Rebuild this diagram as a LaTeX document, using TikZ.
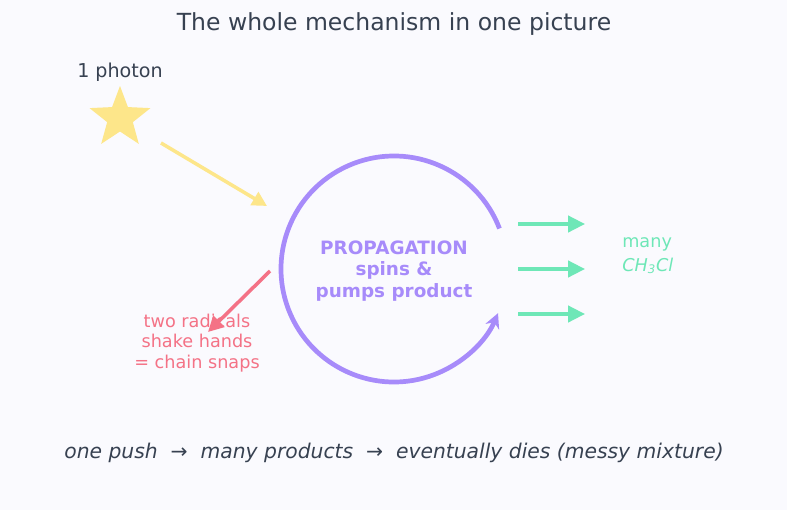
\documentclass[tikz,border=0pt]{standalone}
\usepackage{fontspec}
\setmainfont{DejaVu Sans}
\usetikzlibrary{arrows.meta,calc}

\definecolor{fundo}{HTML}{FAFAFE}
\definecolor{tinta}{HTML}{374151}
\definecolor{luz}{HTML}{FDE68A}
\definecolor{ciclo}{HTML}{A78BFA}
\definecolor{produto}{HTML}{6EE7B7}
\definecolor{quebra}{HTML}{F47286}

\tikzset{
	saida/.style={draw=produto, line width=2.4pt, -{Triangle[length=11.5pt,width=11pt]}},
}

\begin{document}
\begin{tikzpicture}[x=0.68pt,y=-0.68pt]

% fundo
	\fill[fundo] (0,0) rectangle (787,510);
	\useasboundingbox (0,0) rectangle (787,510);

% titulo
	\node[text=tinta, font=\fontsize{16}{19}\selectfont] (titulo) at (394,24) {The whole mechanism in one picture};

% foton
	\node[text=tinta, font=\fontsize{13}{15}\selectfont] (rotulo) at (120,72) {1 photon};
	\coordinate (foton) at (120,118);
	\fill[luz] ($(foton)+(-90:32)$)
		\foreach \k in {1,...,9} {
			\ifodd\k -- ($(foton)+(-90+36*\k:13.5)$) \else -- ($(foton)+(-90+36*\k:32)$) \fi
		} -- cycle;
	\coordinate (luzA) at (161,143);
	\coordinate (luzB) at (267,206);
	\draw[luz, line width=2.4pt, -{Triangle[length=10pt,width=10pt]}] (luzA) -- (luzB);

% ciclo de propagacao
	\node[text=ciclo, align=center, font=\bfseries\fontsize{12.5}{14.8}\selectfont] (prop) at (394,271) {PROPAGATION\\spins \&\\pumps product};
	\coordinate (centro) at (394,269);
	\draw[ciclo, line width=3.2pt, -{Stealth[length=10pt,width=10pt]}] ($(centro)+(-21:113)$) arc[start angle=-21, end angle=-337, radius=113];

% produtos
	\foreach \yy [count=\i] in {224,269,314} {
		\coordinate (g\i a) at (518,\yy);
		\coordinate (g\i b) at (585,\yy);
		\draw[saida] (g\i a) -- (g\i b);
	}
	\node[text=produto, align=left, anchor=west, inner sep=0pt, font=\fontsize{12}{16}\selectfont] (muitos) at (622,256) {many\\\textit{CH}\textsubscript{\itshape 3}\textit{Cl}};

% terminacao
	\coordinate (fimA) at (270,271);
	\coordinate (fimB) at (208,332);
	\draw[quebra, line width=2.4pt, -{Triangle[length=10.5pt,width=10.5pt]}] (fimA) -- (fimB);
	\node[text=quebra, align=center, font=\fontsize{12}{14}\selectfont] (radicais) at (197,343) {two radicals\\shake hands\\= chain snaps};

% resumo
	\node[text=tinta, font=\itshape\fontsize{13.8}{16}\selectfont] (resumo) at (394,453) {one push~~→~~many products~~→~~eventually dies (messy mixture)};

\end{tikzpicture}
\end{document}
